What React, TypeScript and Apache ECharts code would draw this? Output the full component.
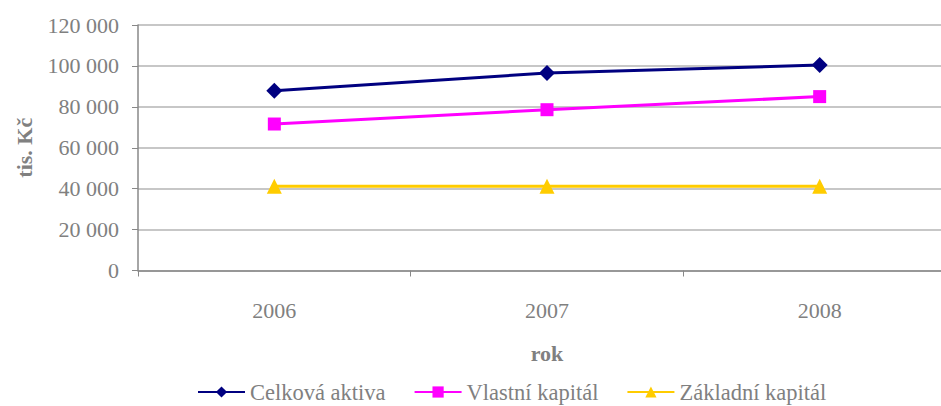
import React, { useEffect, useRef } from "react";
import * as echarts from "echarts";

const years = ["2006", "2007", "2008"];
const celkovaAktiva = [87900, 96500, 100400];
const vlastniKapital = [71600, 78600, 85000];
const zakladniKapital = [41200, 41200, 41200];
const seriesNames = ["Celková aktiva", "Vlastní kapitál", "Základní kapitál"];

const FONT = "Liberation Serif";
const GRAY = "#808080";

export default function App() {
  const ref = useRef<HTMLDivElement>(null);
  useEffect(() => {
    if (!ref.current) return;
    const chart = echarts.init(ref.current, null, { renderer: "svg" });
    const fmt = (v: number) => String(v).replace(/\B(?=(\d{3})+(?!\d))/g, " ");
    chart.setOption({
      animation: false,
      textStyle: { fontFamily: FONT },
      grid: { left: 138, top: 25, right: 0, bottom: 135.5, containLabel: false },
      legend: {
        left: 197,
        top: 380,
        padding: 0,
        itemWidth: 47,
        itemHeight: 14,
        itemGap: 28,
        textStyle: { fontFamily: FONT, fontSize: 22.5, color: GRAY, lineHeight: 24 },
        data: seriesNames,
      },
      xAxis: {
        type: "category",
        data: years,
        boundaryGap: true,
        axisLine: { lineStyle: { color: "#888888", width: 1.5 } },
        axisTick: { show: true, length: 6, lineStyle: { color: "#888888" } },
        axisLabel: { fontSize: 22, color: GRAY, margin: 29, fontFamily: FONT },
        name: "rok",
        nameLocation: "middle",
        nameGap: 72,
        nameTextStyle: { fontSize: 22, fontWeight: "bold", color: GRAY, fontFamily: FONT },
      },
      yAxis: {
        type: "value",
        min: 0,
        max: 120000,
        interval: 20000,
        axisLine: { show: true, lineStyle: { color: "#888888", width: 1.5 } },
        axisTick: { show: true, length: 6, lineStyle: { color: "#888888" } },
        splitLine: { lineStyle: { color: "#b4b4b4", width: 1.5 } },
        axisLabel: { fontSize: 22, color: GRAY, margin: 19, fontFamily: FONT, formatter: fmt },
        name: "tis. Kč",
        nameLocation: "middle",
        nameGap: 103,
        nameTextStyle: { fontSize: 22, fontWeight: "bold", color: GRAY, fontFamily: FONT },
      },
      series: [
        {
          name: seriesNames[0],
          type: "line",
          data: celkovaAktiva,
          symbol: "diamond",
          symbolSize: 16,
          lineStyle: { color: "#000080", width: 3 },
          itemStyle: { color: "#000080" },
        },
        {
          name: seriesNames[1],
          type: "line",
          data: vlastniKapital,
          symbol: "rect",
          symbolSize: 13,
          lineStyle: { color: "#ff00ff", width: 3 },
          itemStyle: { color: "#ff00ff" },
        },
        {
          name: seriesNames[2],
          type: "line",
          data: zakladniKapital,
          symbol: "triangle",
          symbolSize: 15,
          lineStyle: { color: "#ffcc00", width: 3 },
          itemStyle: { color: "#ffcc00" },
        },
      ],
    });
    return () => chart.dispose();
  }, []);
  return (
    <div style={{ position: "absolute", left: 0, top: 0, width: 941, height: 406, overflow: "hidden" }}>
      <div ref={ref} style={{ width: 956, height: 406 }} />
    </div>
  );
}
